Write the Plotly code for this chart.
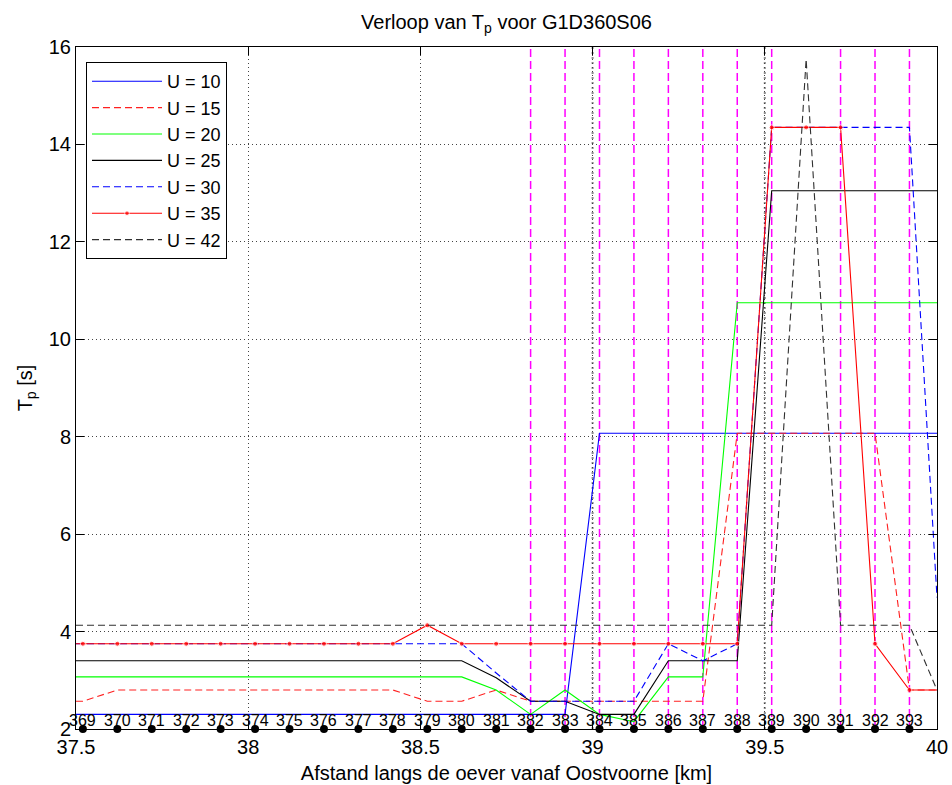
import plotly.graph_objects as go

# Profile numbers along the coast and their chainage [km]
profiles = [369, 370, 371, 372, 373, 374, 375, 376, 377, 378, 379, 380, 381,
            382, 383, 384, 385, 386, 387, 388, 389, 390, 391, 392, 393]
profile_km = [37.52, 37.62, 37.72, 37.82, 37.92, 38.02, 38.12, 38.22, 38.32,
              38.42, 38.52, 38.62, 38.72, 38.82, 38.92, 39.02, 39.12, 39.22,
              39.32, 39.42, 39.52, 39.62, 39.72, 39.82, 39.92]

# Start and end of the section
km_start = 37.5
km_end = 40.0

# Peak period Tp [s] per wind speed: value at section start, per profile, at section end
tp_u10 = [2.3, 2.3, 2.3, 2.3, 2.3, 2.3, 2.3, 2.3, 2.3, 2.3, 2.3, 2.3, 2.3, 2.3,
          2.3, 2.3, 8.07, 8.07, 8.07, 8.07, 8.07, 8.07, 8.07, 8.07, 8.07, 8.07, 8.07]
tp_u15 = [2.57, 2.57, 2.8, 2.8, 2.8, 2.8, 2.8, 2.8, 2.8, 2.8, 2.8, 2.57, 2.57, 2.8,
          2.57, 2.57, 2.57, 2.57, 2.57, 2.57, 8.07, 8.07, 8.07, 8.07, 8.07, 2.8, 2.8]
tp_u20 = [3.07, 3.07, 3.07, 3.07, 3.07, 3.07, 3.07, 3.07, 3.07, 3.07, 3.07, 3.07, 3.07,
          2.8, 2.3, 2.8, 2.3, 2.15, 3.07, 3.07, 10.75, 10.75, 10.75, 10.75, 10.75, 10.75, 10.75]
tp_u25 = [3.4, 3.4, 3.4, 3.4, 3.4, 3.4, 3.4, 3.4, 3.4, 3.4, 3.4, 3.4, 3.4,
          3.05, 2.57, 2.57, 2.3, 2.3, 3.4, 3.4, 3.4, 13.05, 13.05, 13.05, 13.05, 13.05, 13.05]
tp_u30 = [3.75, 3.75, 3.75, 3.75, 3.75, 3.75, 3.75, 3.75, 3.75, 3.75, 3.75, 3.75, 3.75,
          3.15, 2.57, 2.57, 2.57, 2.57, 3.75, 3.4, 3.75, 14.35, 14.35, 14.35, 14.35, 14.35, 4.7]
tp_u35 = [3.75, 3.75, 3.75, 3.75, 3.75, 3.75, 3.75, 3.75, 3.75, 3.75, 3.75, 4.13, 3.75,
          3.75, 3.75, 3.75, 3.75, 3.75, 3.75, 3.75, 3.75, 14.35, 14.35, 14.35, 3.75, 2.8, 2.8]
tp_u42 = [4.13, 4.13, 4.13, 4.13, 4.13, 4.13, 4.13, 4.13, 4.13, 4.13, 4.13, 4.13, 4.13,
          4.13, 4.13, 4.13, 4.13, 4.13, 4.13, 4.13, 4.13, 4.13, 15.75, 4.13, 4.13, 4.13, 2.8]

# Profiles marked with a vertical reference line
marked_profiles = [382, 383, 384, 385, 386, 387, 388, 389, 391, 392, 393]
section_breaks = [39.0, 39.5]

x_ticks = [37.5, 38, 38.5, 39, 39.5, 40]
x_tick_text = ["37.5", "38", "38.5", "39", "39.5", "40"]
y_ticks = [2, 4, 6, 8, 10, 12, 14, 16]

km_line = [km_start] + profile_km + [km_end]
FONT = "Liberation Sans, Arial, sans-serif"

series = [
    ("U = 10", tp_u10, "#0000ff", "solid", False),
    ("U = 15", tp_u15, "#ff2020", "7px,4px", False),
    ("U = 20", tp_u20, "#00ff00", "solid", False),
    ("U = 25", tp_u25, "#000000", "solid", False),
    ("U = 30", tp_u30, "#0000ff", "7px,4px", False),
    ("U = 35", tp_u35, "#ff0000", "solid", True),
    ("U = 42", tp_u42, "#303030", "7px,4px", False),
]

fig = go.Figure()

for name, values, color, dash, dots in series:
    kw = dict(mode="lines")
    if dots:
        kw["mode"] = "lines+markers"
        kw["marker"] = dict(color=color, size=[0] + [5] * len(profile_km) + [0])
    fig.add_trace(go.Scatter(
        x=km_line, y=values, name=name,
        line=dict(color=color, width=1.1, dash=dash),
        **kw,
    ))

# Profile locations on the axis
fig.add_trace(go.Scatter(
    x=profile_km, y=[2] * len(profile_km), mode="markers",
    marker=dict(color="black", size=8), cliponaxis=False,
    showlegend=False, hoverinfo="skip",
))

km_of = dict(zip(profiles, profile_km))
for p in marked_profiles:
    fig.add_shape(type="line", xref="x", yref="paper", x0=km_of[p], x1=km_of[p],
                  y0=0, y1=1, layer="below",
                  line=dict(color="#ff00ff", width=1.5, dash="8px,4px"))
for xb in section_breaks:
    fig.add_shape(type="line", xref="x", yref="paper", x0=xb, x1=xb,
                  y0=0, y1=1, layer="below",
                  line=dict(color="#8c8c8c", width=2, dash="2px,3px"))

for p, km in zip(profiles, profile_km):
    fig.add_annotation(x=km, y=2, text=str(p), showarrow=False, yshift=9,
                       xanchor="center", yanchor="middle",
                       font=dict(family=FONT, size=16, color="black"))

fig.update_layout(
    width=952, height=785,
    margin=dict(l=76, r=15, t=47, b=56),
    paper_bgcolor="white", plot_bgcolor="white",
    font=dict(family=FONT, size=20, color="black"),
    title=dict(text="Verloop van T<sub>p</sub> voor G1D360S06",
               x=0.5, xref="paper", xanchor="center",
               y=1 - 22 / 785, yref="container", yanchor="middle",
               font=dict(family=FONT, size=20, color="black")),
    legend=dict(x=10 / 861, y=1 - 15 / 682, xanchor="left", yanchor="top",
                bgcolor="white", bordercolor="black", borderwidth=1,
                font=dict(family=FONT, size=18, color="black"),
                itemwidth=70, tracegroupgap=0),
    showlegend=True,
)

fig.update_xaxes(
    range=[37.5, 40], tickvals=x_ticks, ticktext=x_tick_text,
    showline=True, linecolor="black", linewidth=1, mirror="ticks",
    ticks="inside", ticklen=8, tickcolor="black",
    showgrid=True, gridcolor="#444444", gridwidth=1, griddash="1px,3px",
    zeroline=False, automargin=False,
    title=dict(text="Afstand langs de oever vanaf Oostvoorne [km]", standoff=8,
               font=dict(family=FONT, size=20)),
    tickfont=dict(family=FONT, size=20),
)
fig.update_yaxes(
    range=[2, 16], tickvals=y_ticks,
    showline=True, linecolor="black", linewidth=1, mirror="ticks",
    ticks="inside", ticklen=8, tickcolor="black",
    showgrid=True, gridcolor="#444444", gridwidth=1, griddash="1px,3px",
    zeroline=False, automargin=False,
    title=dict(text="T<sub>p</sub> [s]", standoff=10,
               font=dict(family=FONT, size=20)),
    tickfont=dict(family=FONT, size=20),
)

fig.write_html("out.html")
